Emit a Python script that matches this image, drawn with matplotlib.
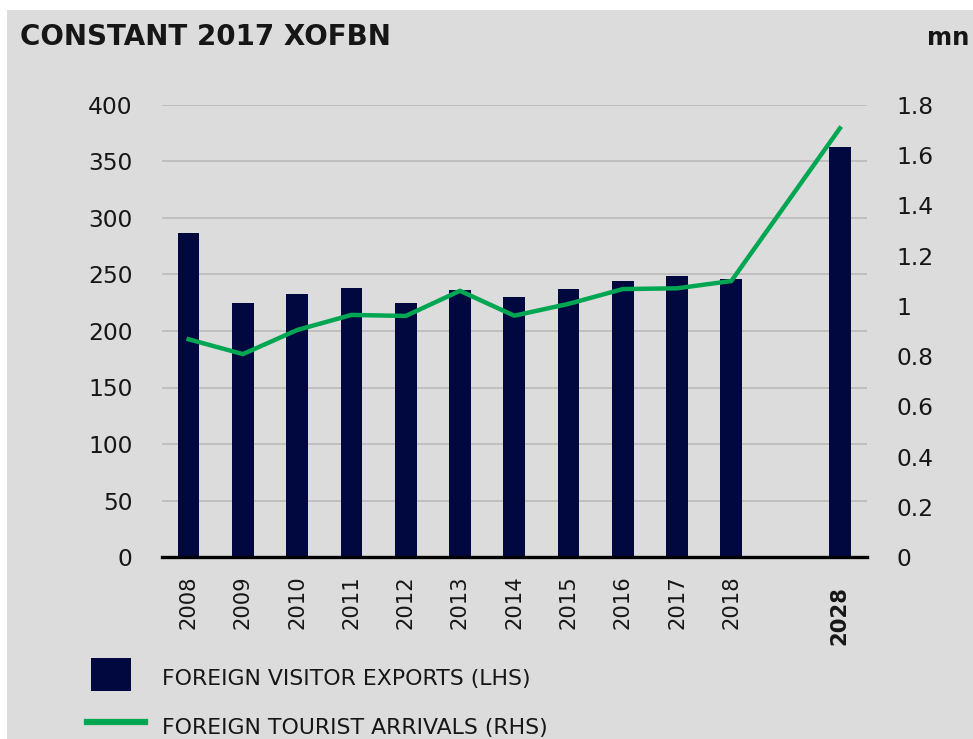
import matplotlib
matplotlib.use("Agg")
import matplotlib.pyplot as plt
from matplotlib.patches import Rectangle
from matplotlib.lines import Line2D
from matplotlib.transforms import ScaledTranslation

years = ["2008", "2009", "2010", "2011", "2012", "2013", "2014", "2015",
         "2016", "2017", "2018", "2028"]
slots = [0, 1, 2, 3, 4, 5, 6, 7, 8, 9, 10, 12]
exports = [287, 225, 233, 238, 225, 236, 230, 237, 244, 249, 246, 363]
arrivals = [0.867, 0.808, 0.904, 0.964, 0.960, 1.060, 0.961, 1.008,
            1.067, 1.070, 1.099, 1.707]

BG, GRID, INK = "#dcdcdc", "#bcbcbc", "#161616"
NAVY, GREEN = "#00083f", "#00a651"

plt.rcParams["font.family"] = ["DejaVu Sans"]

W, H = 973, 739
fig = plt.figure(figsize=(W / 100, H / 100), dpi=100)
fig.patch.set_facecolor("white")
fig.patches.append(Rectangle((7 / W, 0), 1, 1 - 10 / H, transform=fig.transFigure,
                             facecolor=BG, edgecolor="none", zorder=-10))

ax = fig.add_axes([161.5 / W, 182 / H, 705.5 / W, 452 / H])
ax.set_facecolor(BG)
ax.bar(slots, exports, width=0.4, color=NAVY, zorder=2)
ax.set_xlim(-0.5, 12.5)
ax.set_ylim(0, 400)
ax.set_yticks(range(0, 401, 50))
ax.grid(axis="y", color=GRID, linewidth=1.3, zorder=0)
ax.set_axisbelow(True)
for s in ("top", "right", "left"):
    ax.spines[s].set_visible(False)
ax.spines["bottom"].set_color("black")
ax.spines["bottom"].set_linewidth(2.4)
ax.spines["bottom"].set_zorder(5)
ax.tick_params(axis="y", length=0, pad=21, labelsize=16.8, labelcolor=INK)
ax.tick_params(axis="x", length=0, pad=13, labelsize=15.2, labelcolor=INK)
ax.set_xticks(slots)
ax.set_xticklabels(years, rotation=90, va="top")
last = ax.get_xticklabels()[-1]
last.set_fontweight("bold")
last.set_transform(last.get_transform() + ScaledTranslation(0, -11 / 100, fig.dpi_scale_trans))

ax2 = ax.twinx()
ax2.plot(slots, arrivals, color=GREEN, linewidth=3.2, zorder=4)
ax2.set_ylim(0, 1.8)
ax2.set_yticks([0, 0.2, 0.4, 0.6, 0.8, 1, 1.2, 1.4, 1.6, 1.8])
ax2.set_yticklabels(["0", "0.2", "0.4", "0.6", "0.8", "1", "1.2", "1.4", "1.6", "1.8"])
ax2.tick_params(axis="y", length=0, pad=21, labelsize=16.8, labelcolor=INK)
for s in ax2.spines.values():
    s.set_visible(False)

fig.text(20 / W, 1 - 45 / H, "CONSTANT 2017 XOFBN", fontsize=20, fontweight="bold",
         color=INK, ha="left", va="baseline")
fig.text(927 / W, 1 - 45 / H, "mn", fontsize=17.5, fontweight="bold",
         color=INK, ha="left", va="baseline")

# legend
fig.patches.append(Rectangle((91 / W, 1 - 691 / H), 40 / W, 33 / H, transform=fig.transFigure,
                             facecolor=NAVY, edgecolor="none"))
fig.lines.append(Line2D([87 / W, 145 / W], [1 - 722 / H, 1 - 722 / H], transform=fig.transFigure,
                        color=GREEN, linewidth=4.5))
fig.text(162 / W, 1 - 685 / H, "FOREIGN VISITOR EXPORTS (LHS)", fontsize=15.8,
         color=INK, ha="left", va="baseline")
fig.text(162 / W, 1 - 734 / H, "FOREIGN TOURIST ARRIVALS (RHS)", fontsize=15.8,
         color=INK, ha="left", va="baseline")

fig.savefig("out.png", dpi=100, facecolor=fig.get_facecolor())
